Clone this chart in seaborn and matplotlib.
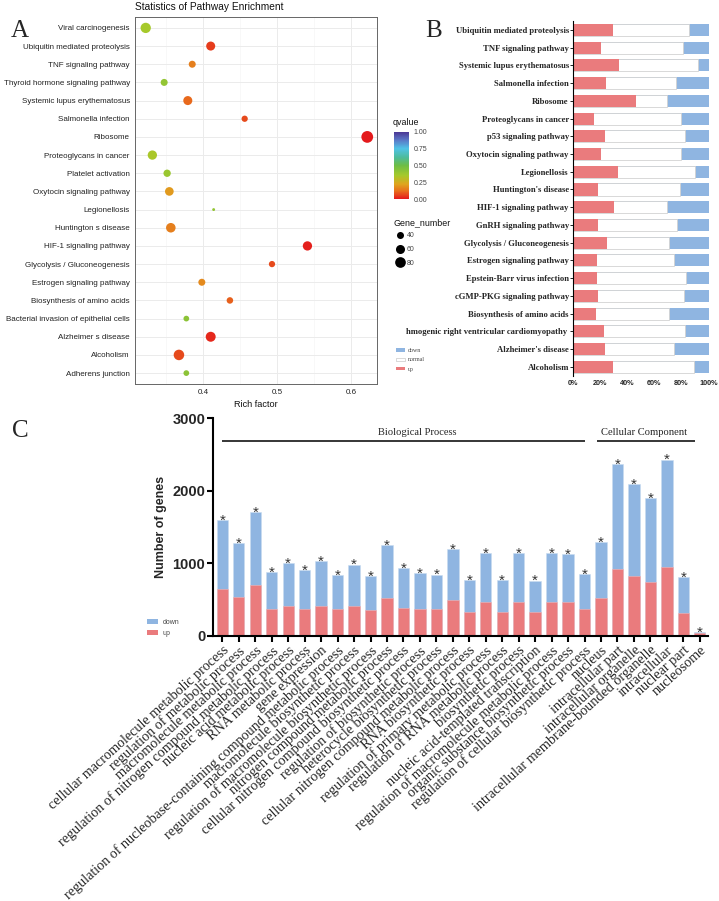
import numpy as np
import pandas as pd
import matplotlib
matplotlib.use("Agg")
import matplotlib.pyplot as plt
import seaborn as sns
from matplotlib.colors import LinearSegmentedColormap, Normalize
from matplotlib.cm import ScalarMappable
from matplotlib.patches import Patch
from matplotlib.lines import Line2D
from matplotlib.transforms import Bbox, TransformedBbox

# ---------------- Panel A data ----------------
a_pathways = ["Viral carcinogenesis", "Ubiquitin mediated proteolysis", "TNF signaling pathway",
              "Thyroid hormone signaling pathway", "Systemic lupus erythematosus", "Salmonella infection",
              "Ribosome", "Proteoglycans in cancer", "Platelet activation", "Oxytocin signaling pathway",
              "Legionellosis", "Huntington s disease", "HIF-1 signaling pathway",
              "Glycolysis / Gluconeogenesis", "Estrogen signaling pathway", "Biosynthesis of amino acids",
              "Bacterial invasion of epithelial cells", "Alzheimer s disease", "Alcoholism",
              "Adherens junction"]
a_rich = [0.322, 0.410, 0.385, 0.347, 0.379, 0.456, 0.622, 0.331, 0.351, 0.354,
          0.414, 0.356, 0.541, 0.493, 0.398, 0.436, 0.377, 0.410, 0.367, 0.377]
a_genes = [75, 60, 40, 40, 60, 34, 95, 63, 43, 56,
           15, 66, 63, 34, 40, 36, 30, 71, 78, 30]
a_qvalue = [0.35, 0.05, 0.15, 0.40, 0.11, 0.07, 0.00, 0.34, 0.38, 0.20,
            0.40, 0.15, 0.01, 0.07, 0.17, 0.10, 0.42, 0.02, 0.07, 0.42]
a_size_legend = [40, 60, 80]

# ---------------- Panel B data ----------------
b_pathways = ["Ubiquitin mediated proteolysis", "TNF signaling pathway", "Systemic lupus erythematosus",
              "Salmonella infection", "Ribosome", "Proteoglycans in cancer", "p53 signaling pathway",
              "Oxytocin signaling pathway", "Legionellosis", "Huntington's disease",
              "HIF-1 signaling pathway", "GnRH signaling pathway", "Glycolysis / Gluconeogenesis",
              "Estrogen signaling pathway", "Epstein-Barr virus infection", "cGMP-PKG signaling pathway",
              "Biosynthesis of amino acids", "Arrhythmogenic right ventricular cardiomyopathy ",
              "Alzheimer's disease", "Alcoholism"]
b_up = [29.4, 20.3, 33.8, 24.3, 46.3, 15.2, 23.5, 20.3, 32.8, 18.1,
        29.9, 18.1, 24.8, 17.4, 17.4, 18.4, 16.7, 23.0, 23.3, 29.7]
b_down = [14.5, 19.1, 8.1, 24.0, 30.4, 20.1, 17.6, 20.3, 10.3, 21.3,
          30.6, 23.5, 29.2, 25.5, 16.7, 18.1, 29.2, 17.6, 25.5, 11.0]
b_xticks = [0, 20, 40, 60, 80, 100]
b_xticklabels = ["0%", "20%", "40%", "60%", "80%", "100%"]

# ---------------- Panel C data ----------------
c_terms = ["cellular macromolecule metabolic process", "regulation of metabolic process",
           "macromolecule metabolic process", "regulation of nitrogen compound metabolic process",
           "nucleic acid metabolic process", "RNA metabolic process", "gene expression",
           "regulation of nucleobase-containing compound metabolic process",
           "macromolecule biosynthetic process", "regulation of macromolecule biosynthetic process",
           "nitrogen compound metabolic process", "cellular nitrogen compound biosynthetic process",
           "regulation of biosynthetic process", "heterocycle biosynthetic process",
           "cellular nitrogen compound metabolic process", "RNA biosynthetic process",
           "regulation of primary metabolic process", "regulation of RNA metabolic process",
           "biosynthetic process", "nucleic acid-templated transcription",
           "regulation of macromolecule metabolic process", "organic substance biosynthetic process",
           "regulation of cellular biosynthetic process",
           "nucleus", "intracellular part", "intracellular organelle",
           "intracellular membrane-bounded organelle", "intracellular", "nuclear part", "nucleosome"]
c_total = [1597, 1279, 1703, 879, 1003, 907, 1031, 833, 980, 824,
           1252, 930, 861, 842, 1197, 769, 1137, 769, 1137, 759,
           1137, 1123, 847, 1289, 2365, 2094, 1901, 2430, 810, 46]
c_up = [649, 529, 695, 373, 414, 373, 414, 364, 410, 350,
        515, 387, 364, 364, 488, 331, 469, 331, 469, 331,
        469, 469, 364, 515, 925, 819, 736, 953, 318, 32]
c_yticks = [0, 1000, 2000, 3000]
c_groups = ["Biological Process", "Cellular Component"]
c_group_spans = [(0, 22), (22.75, 28.7)]

# ---------------- styling ----------------
W, H = 719, 901
UP = "#ea7b7d"
DOWN = "#8fb5e1"
SANS = "Liberation Sans"
SERIF = "Liberation Serif"

sns.set_style("white")
plt.rcParams["font.family"] = [SANS, "DejaVu Sans"]

fig = plt.figure(figsize=(W / 100, H / 100), dpi=100)


def px_axes(left, top, right, bottom):
    return fig.add_axes([left / W, 1 - bottom / H, (right - left) / W, (bottom - top) / H])


def fx(x):
    return x / W


def fy(y):
    return 1 - y / H


# ================= Panel A =================
qcmap = LinearSegmentedColormap.from_list(
    "q", [(0.0, "#e41a1c"), (0.12, "#e8701c"), (0.22, "#dfa51e"), (0.35, "#a6c92b"),
          (0.5, "#6dbd45"), (0.62, "#4dbb9c"), (0.75, "#4fc3e6"), (0.88, "#5a76c6"),
          (1.0, "#4b3593")])

axA = px_axes(135, 17, 377.3, 384)
dfA = pd.DataFrame({"pathway": a_pathways, "rich": a_rich, "genes": a_genes, "q": a_qvalue})
dfA["pos"] = np.arange(len(dfA))


def area_pts(v):
    d_px = np.sqrt(max(1.625 * v - 16, 1))
    return (d_px * 0.72) ** 2


smin, smax = area_pts(15), area_pts(95)
axA.set_axisbelow(True)
axA.set_xticks([0.35, 0.45, 0.55], minor=True)
axA.grid(True, which="major", color="#ebebeb", lw=0.7)
axA.grid(True, which="minor", axis="x", color="#f3f3f3", lw=0.4)
sns.scatterplot(data=dfA, x="rich", y="pos", hue="q", palette=qcmap, hue_norm=(0, 1),
                size="genes", sizes=(smin, smax), size_norm=(15, 95), linewidth=0,
                legend=False, ax=axA, zorder=3)
axA.set_xlim(0.3075, 0.6356)
axA.set_ylim(len(dfA) - 0.4, -0.6)
axA.set_yticks(dfA["pos"], dfA["pathway"])
axA.set_xticks([0.4, 0.5, 0.6], ["0.4", "0.5", "0.6"])
axA.tick_params(axis="both", which="major", length=2.2, width=0.5, color="#444444",
                labelsize=5.8, labelcolor="#222222", pad=1.5)
axA.tick_params(axis="x", which="minor", length=0)
axA.set_ylabel("")
axA.set_xlabel("Rich factor", fontsize=6.6, labelpad=2.5, color="#111111")
for s in axA.spines.values():
    s.set_visible(True)
    s.set_color("#666666")
    s.set_linewidth(0.7)
fig.text(fx(135), fy(6.5), "Statistics of Pathway Enrichment", fontsize=7.3, va="center", ha="left",
         color="#111111")

# colorbar legend
cax = px_axes(394, 131.7, 408.5, 199)
cb = fig.colorbar(ScalarMappable(norm=Normalize(0, 1), cmap=qcmap), cax=cax)
cb.set_ticks([0, 0.25, 0.5, 0.75, 1.0], labels=["0.00", "0.25", "0.50", "0.75", "1.00"])
cb.outline.set_visible(False)
cax.tick_params(length=2, width=0.5, color="white", labelsize=5, labelcolor="#444444", pad=1.5)
fig.text(fx(393), fy(122.7), "qvalue", fontsize=6.4, va="center", ha="left", color="#111111")

# size legend
fig.text(fx(393), fy(222.7), "Gene_number", fontsize=6.4, va="center", ha="left", color="#111111")
size_handles = [Line2D([], [], ls="", marker="o", color="black", markeredgewidth=0,
                       markersize=np.sqrt(area_pts(v))) for v in a_size_legend]
legA = fig.legend(handles=size_handles, labels=[str(v) for v in a_size_legend],
                  loc="upper left", bbox_to_anchor=(fx(395.5), fy(232)), frameon=False,
                  fontsize=5, handletextpad=0.3, labelspacing=1.0,
                  borderpad=0, borderaxespad=0, handlelength=1.3)
for t in legA.get_texts():
    t.set_color("#444444")

# ================= Panel B =================
axB = px_axes(573, 21.1, 708.7, 375.6)
dfB = pd.DataFrame({"pathway": b_pathways, "up": b_up, "down": b_down})
dfB["full"] = 100.0
dfB["upnorm"] = 100.0 - dfB["down"]
sns.barplot(data=dfB, x="full", y="pathway", order=b_pathways, orient="h", color=DOWN,
            saturation=1, errorbar=None, width=0.68, linewidth=0, ax=axB)
sns.barplot(data=dfB, x="upnorm", y="pathway", order=b_pathways, orient="h", color="white",
            saturation=1, errorbar=None, width=0.68, linewidth=0.6, edgecolor="#d2d2d2", ax=axB)
sns.barplot(data=dfB, x="up", y="pathway", order=b_pathways, orient="h", color=UP,
            saturation=1, errorbar=None, width=0.68, linewidth=0, ax=axB)
axB.set_xlim(0, 100)
axB.set_ylim(len(b_pathways) - 0.5, -0.5)
axB.set_xlabel("")
axB.set_ylabel("")
axB.set_xticks(b_xticks, b_xticklabels)
for s in ["top", "right", "bottom"]:
    axB.spines[s].set_visible(False)
axB.spines["left"].set_color("black")
axB.spines["left"].set_linewidth(0.8)
axB.tick_params(axis="y", length=2, width=0.6, color="black", left=True, pad=1,
                labelsize=6.2)
axB.tick_params(axis="x", length=0, pad=3, labelsize=5.2)
for lbl in axB.get_yticklabels():
    lbl.set_fontfamily(SERIF)
    lbl.set_fontweight("bold")
for lbl in axB.get_xticklabels():
    lbl.set_fontweight("bold")
clipbox = TransformedBbox(Bbox([[fx(406), 0], [fx(720), 1]]), fig.transFigure)
for lbl in axB.get_yticklabels():
    lbl.set_clip_box(clipbox)
    lbl.set_clip_on(True)

legB = fig.legend(handles=[Patch(fc=DOWN, ec="none"), Patch(fc="white", ec="#bbbbbb", lw=0.4),
                           Patch(fc=UP, ec="none")],
                  labels=["down", "normal", "up"], loc="upper left",
                  bbox_to_anchor=(fx(396), fy(348)), frameon=False,
                  prop={"family": SERIF, "size": 4.2}, handlelength=1.5, handleheight=0.55,
                  handletextpad=0.6, labelspacing=0.75, borderpad=0, borderaxespad=0)
for t in legB.get_texts():
    t.set_color("#444444")

# ================= Panel C =================
axC = px_axes(213.3, 418.3, 708, 635.7)
dfC = pd.DataFrame({"term": c_terms, "total": c_total, "up": c_up})
sns.barplot(data=dfC, x="term", y="total", order=c_terms, color=DOWN, saturation=1,
            errorbar=None, width=0.69, linewidth=0.4, edgecolor="#c9dcf0", ax=axC)
sns.barplot(data=dfC, x="term", y="up", order=c_terms, color=UP, saturation=1,
            errorbar=None, width=0.69, linewidth=0.4, edgecolor="#f3b5b6", ax=axC)
for i, t in enumerate(dfC["total"]):
    axC.annotate("*", (i, t), xytext=(0, -3.3), textcoords="offset points", ha="center",
                 va="baseline", fontsize=11, color="#333333")
axC.set_ylim(0, 3000)
axC.set_xlim(-0.55, len(c_terms) - 0.5)
axC.set_yticks(c_yticks, [str(v) for v in c_yticks])
axC.set_xlabel("")
axC.set_ylabel("Number of genes", fontsize=9, fontweight="bold", labelpad=4)
for s in ["top", "right"]:
    axC.spines[s].set_visible(False)
for s in ["left", "bottom"]:
    axC.spines[s].set_color("black")
    axC.spines[s].set_linewidth(1.5)
axC.tick_params(axis="y", length=4.3, width=1.5, color="black", left=True, pad=1.5, labelsize=10.5)
axC.tick_params(axis="x", length=4.3, width=1.5, color="black", bottom=True, pad=1.5)
for lbl in axC.get_yticklabels():
    lbl.set_fontweight("bold")
axC.set_xticks(range(len(c_terms)))
axC.set_xticklabels(c_terms, rotation=42, ha="right", va="top", rotation_mode="anchor",
                    fontfamily=SERIF, fontsize=10.2)

for name, (x0, x1) in zip(c_groups, c_group_spans):
    axC.plot([x0, x1], [2692, 2692], color="black", lw=1.1, clip_on=False, solid_capstyle="butt")
axC.text(11.83, 2798, c_groups[0], ha="center", va="center", fontfamily=SERIF, fontsize=7.6)
axC.text(25.62, 2798, c_groups[1], ha="center", va="center", fontfamily=SERIF, fontsize=7.6)

legC = fig.legend(handles=[Patch(fc=DOWN, ec="none"), Patch(fc=UP, ec="none")],
                  labels=["down", "up"], loc="upper left", bbox_to_anchor=(fx(147), fy(619)),
                  frameon=False, fontsize=5, handlelength=1.6, handleheight=0.6,
                  handletextpad=0.6, labelspacing=0.55, borderpad=0, borderaxespad=0)
for t in legC.get_texts():
    t.set_color("#444444")

# panel letters
for letter, (x, y) in zip("ABC", [(20, 31), (434, 31), (20, 431)]):
    fig.text(fx(x), fy(y), letter, fontfamily=SERIF, fontsize=18, ha="center", va="center")

fig.savefig("out.png", dpi=100)
